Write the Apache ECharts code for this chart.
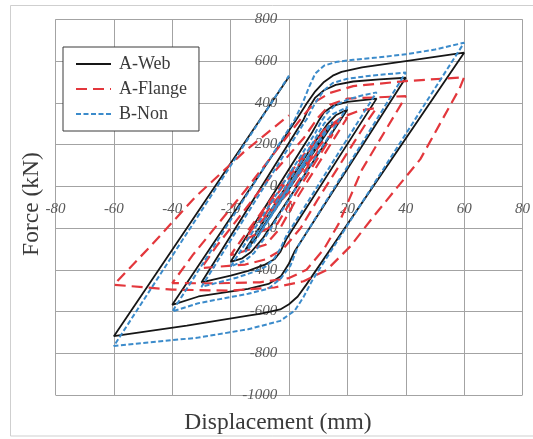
<!DOCTYPE html>
<html>
<head>
<meta charset="utf-8">
<script src="https://cdn.jsdelivr.net/npm/echarts@6/dist/echarts.min.js"></script>
<style>
  html, body { margin: 0; padding: 0; background: #fff; }
  #chart { width: 533px; height: 439px; }
</style>
</head>
<body>
<div id="chart"></div>
<script>
// Hysteresis curves: force (kN) against displacement (mm), three specimens.
const seriesNames = ['A-Web', 'A-Flange', 'B-Non'];

const xLimits = [-80, 80];
const xStep = 20;
const yLimits = [-1000, 800];
const yStep = 200;

const xTitle = 'Displacement (mm)';
const yTitle = 'Force (kN)';

// Specimen A, web connection: [displacement, force]
const aWeb = [
  [0, 0], [5, 105], [-5, -108],
  [10, 212], [-10, -218],
  [13, 270], [15, 298], [-12, -262], [-15, -305],
  [9, 215], [13, 295], [16, 340], [20, 368],
  [-9, -250], [-13, -315], [-16, -345], [-20, -362],
  [8, 260], [10, 310], [12, 355], [15, 385], [20, 404], [30, 420],
  [-1, -255], [-3, -315], [-5, -350], [-8.5, -377], [-14, -405], [-20, -428], [-30, -461],
  [5, 320], [7, 380], [9, 425], [12, 460], [16, 486], [22, 502], [31, 512], [40, 520],
  [2, -310], [0, -370], [-2.7, -430], [-7, -468], [-14, -492], [-31, -528], [-40, -568],
  [3, 330], [6, 395], [9, 455], [12, 500], [15, 530], [18, 548], [25, 570], [40, 600], [60, 640],
  [6, -470], [3, -528], [0, -565], [-3, -590], [-9.5, -610], [-14, -620], [-35, -668], [-60, -718],
  [0, 525]
];

// Specimen A, flange connection
const aFlange = [
  [0, 0], [5, 85], [-5, -85],
  [10, 170], [2, 0], [-10, -175],
  [-7, -110], [12, 220], [15, 250], [13, 205], [-1, -110], [-4, -180], [-15, -255],
  [-11, -170], [10, 230], [15, 290], [20, 330], [18, 285], [3, -50], [-3, -200], [-8, -280], [-20, -330],
  [-15, -230], [5, 150], [12, 270], [18, 330], [24, 362], [30, 375],
  [27, 315], [10, -60], [4, -200], [-2, -300], [-8, -350], [-15, -375], [-30, -392],
  [-25, -290], [-5, 70], [5, 230], [10, 330], [14, 390], [20, 420], [40, 432],
  [38.5, 395], [25, 80], [17, -180], [12, -300], [6, -400], [0, -440], [-10, -460], [-25, -465], [-40, -464],
  [-33, -330], [-15, -20], [0, 250], [5, 340], [9, 405], [14, 447], [22, 480], [40, 504], [60, 522],
  [58.5, 470], [45, 130], [29, -144], [21, -288], [13, -400], [5, -455], [-5, -485], [-20, -500], [-40, -495], [-60, -472],
  [-47, -280], [-32, -50], [-15, 170], [0, 340]
];

// Specimen B, no stiffener
const bNon = [
  [0, 0], [5, 110], [-5, -112],
  [10, 220], [-10, -225],
  [13, 280], [15, 310], [-12, -270], [-15, -315],
  [8, 205], [12, 300], [15, 345], [20, 380],
  [-8, -240], [-12, -320], [-15, -355], [-20, -385],
  [9, 255], [11, 310], [13, 350], [16, 390], [20, 415], [25, 435], [30, 450],
  [-1, -240], [-3, -300], [-5, -345], [-8, -385], [-12, -410], [-18, -438], [-30, -482],
  [5, 300], [6, 320], [9, 400], [12, 460], [15, 495], [20, 515], [28, 530], [40, 545],
  [3, -290], [0.5, -380], [-2.7, -440], [-7, -490], [-14, -515], [-31, -560], [-40, -600],
  [2, 320], [5, 410], [7, 480], [9, 540], [12, 578], [16, 595], [22, 606], [30, 617], [40, 632], [50, 655], [60, 688],
  [8, -450], [5, -530], [2, -595], [-3, -645], [-14, -685], [-31, -725], [-60, -765],
  [0, 530]
];

const serifFont = '"Liberation Serif", "DejaVu Serif", serif';
const tickStyle = {
  fontFamily: serifFont,
  fontStyle: 'italic',
  fontSize: 15,
  color: '#595959',
  formatter: function (v) { return String(v); }
};
const gridColor = '#a3a3a3';
const gridLine = { show: true, lineStyle: { color: gridColor, width: 1 } };

// Plot area; the tick labels sit on the lines through the origin, so each axis is
// shifted inward from its default edge to where the other axis is zero.
const plot = { left: 55.5, top: 19.3, width: 471.5, height: 375.7 };
const xAxisShift = -plot.height * (0 - yLimits[0]) / (yLimits[1] - yLimits[0]);
const yAxisShift = -plot.width * (0 - xLimits[0]) / (xLimits[1] - xLimits[0]);

const chart = echarts.init(document.getElementById('chart'), null, { renderer: 'canvas' });

chart.setOption({
  animation: false,
  backgroundColor: '#ffffff',
  grid: { left: plot.left, top: plot.top, width: plot.width, height: plot.height, containLabel: false },
  xAxis: {
    type: 'value',
    position: 'bottom',
    offset: xAxisShift,
    min: xLimits[0],
    max: xLimits[1],
    interval: xStep,
    axisLine: { show: false, onZero: false },
    axisTick: { show: false },
    axisLabel: Object.assign({ margin: 15 }, tickStyle),
    splitLine: gridLine
  },
  yAxis: {
    type: 'value',
    position: 'left',
    offset: yAxisShift,
    min: yLimits[0],
    max: yLimits[1],
    interval: yStep,
    axisLine: { show: false, onZero: false },
    axisTick: { show: false },
    axisLabel: Object.assign({ margin: 14 }, tickStyle),
    splitLine: gridLine
  },
  legend: {
    data: seriesNames,
    orient: 'vertical',
    left: 63,
    top: 47,
    itemWidth: 35,
    itemHeight: 18,
    itemGap: 7,
    padding: [8, 12, 8, 12],
    backgroundColor: '#ffffff',
    borderColor: '#3a3a3a',
    borderWidth: 1,
    borderRadius: 0,
    itemStyle: { color: 'rgba(0,0,0,0)', borderColor: 'rgba(0,0,0,0)', borderWidth: 0 },
    textStyle: { fontFamily: serifFont, fontSize: 18, color: '#3a3a3a', padding: [0, 0, 0, 3] }
  },
  graphic: [
    {
      type: 'rect',
      silent: true,
      z: -10,
      shape: { x: 10.5, y: 5.5, width: 560, height: 430.5 },
      style: { fill: null, stroke: '#cfcfcf', lineWidth: 1 }
    },
    {
      type: 'text',
      silent: true,
      x: 278,
      y: 423,
      style: {
        text: xTitle,
        fontFamily: serifFont,
        fontSize: 23.5,
        fill: '#3a3a3a',
        align: 'center',
        verticalAlign: 'middle'
      }
    },
    {
      type: 'text',
      silent: true,
      x: 32,
      y: 204,
      rotation: Math.PI / 2,
      style: {
        text: yTitle,
        fontFamily: serifFont,
        fontSize: 23.5,
        fill: '#3a3a3a',
        align: 'center',
        verticalAlign: 'middle'
      }
    }
  ],
  series: [
    {
      name: seriesNames[0],
      type: 'line',
      data: aWeb,
      symbol: 'none',
      showSymbol: false,
      smooth: false,
      z: 2,
      itemStyle: { color: '#161616' },
      lineStyle: { color: '#161616', width: 1.8, type: 'solid' }
    },
    {
      name: seriesNames[1],
      type: 'line',
      data: aFlange,
      symbol: 'none',
      showSymbol: false,
      smooth: false,
      z: 3,
      itemStyle: { color: '#e3373c' },
      lineStyle: { color: '#e3373c', width: 2.2, type: [11, 6] }
    },
    {
      name: seriesNames[2],
      type: 'line',
      data: bNon,
      symbol: 'none',
      showSymbol: false,
      smooth: false,
      z: 4,
      itemStyle: { color: '#3b8bcb' },
      lineStyle: { color: '#3b8bcb', width: 2, type: [5, 2.5] }
    }
  ]
});
</script>
</body>
</html>
